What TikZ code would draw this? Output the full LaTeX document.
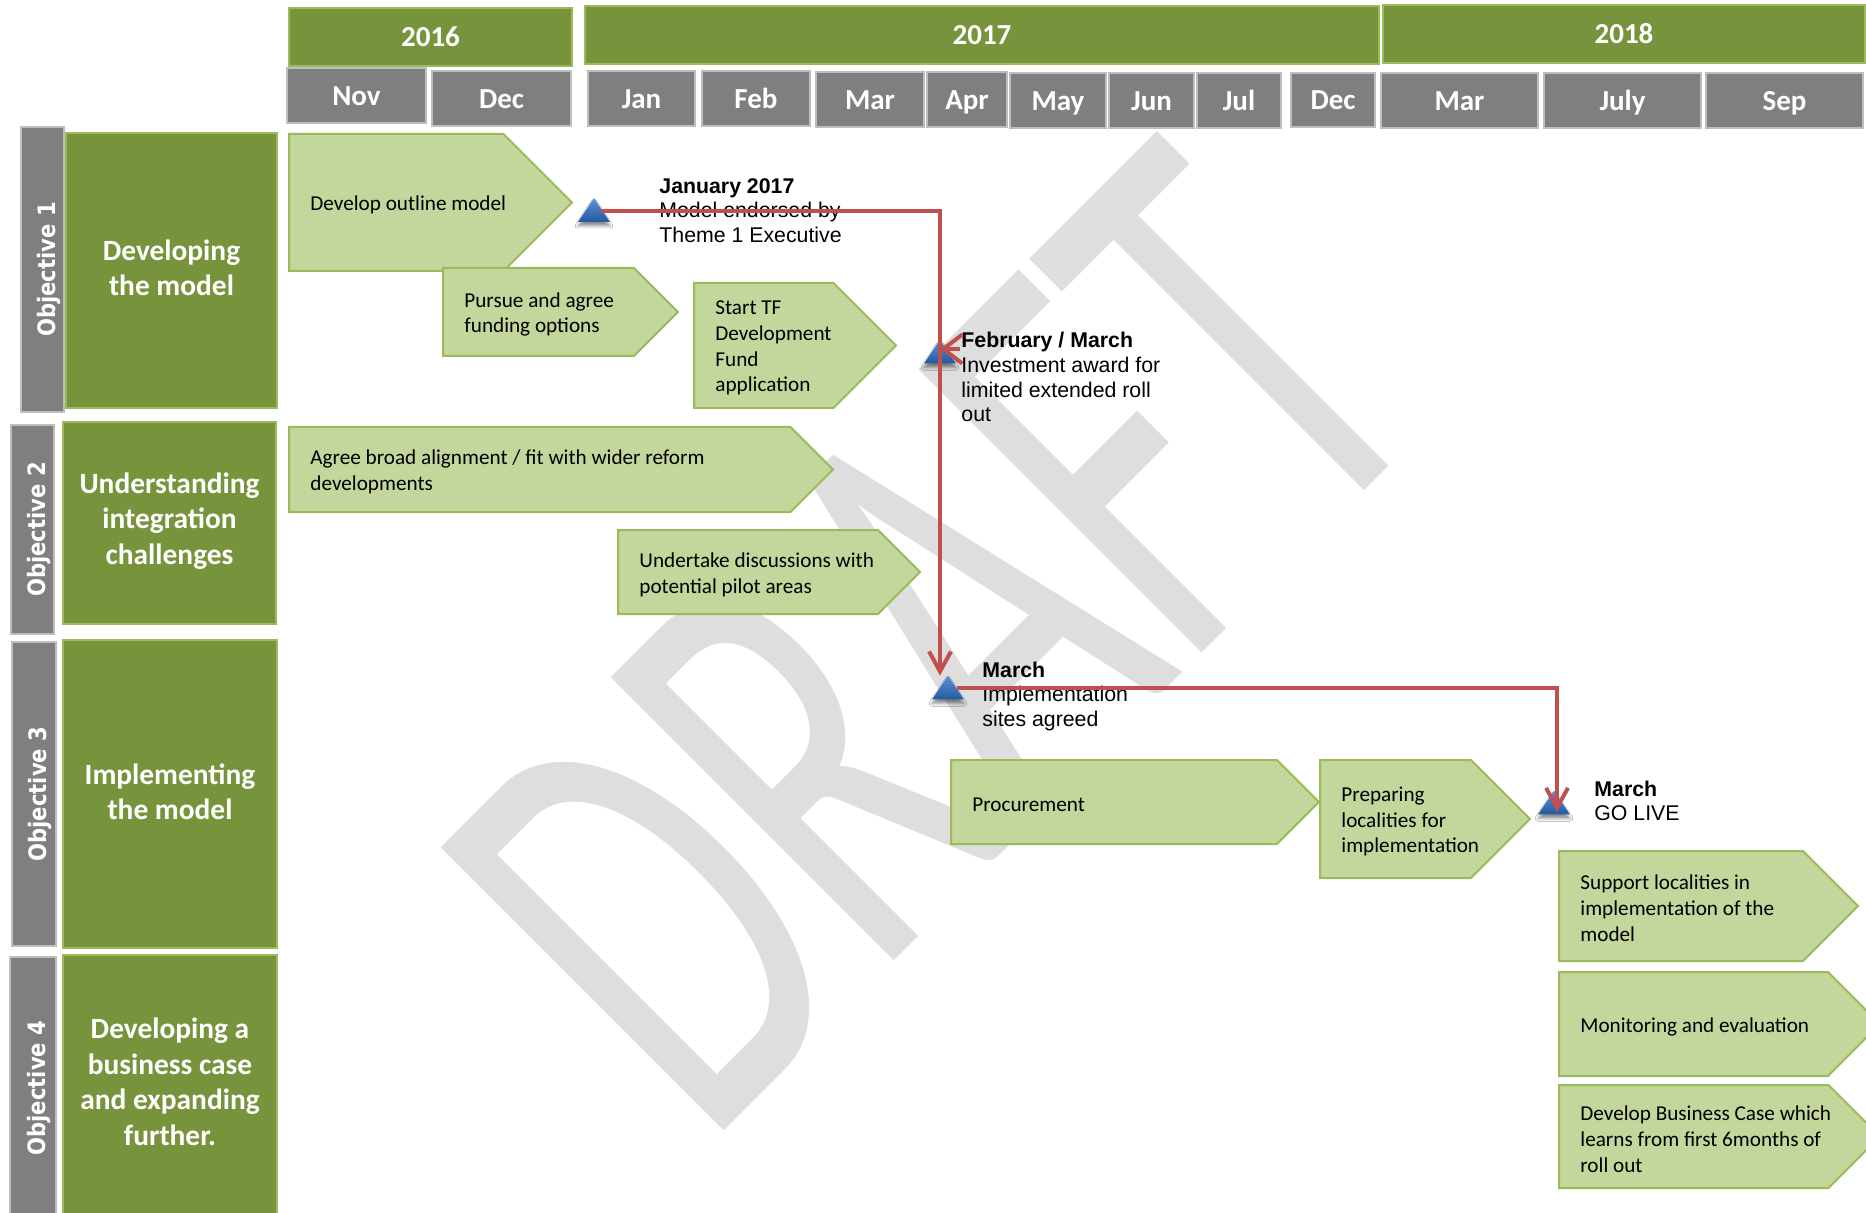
\documentclass[tikz,border=0pt]{standalone}
\usepackage{fontspec}
\usepackage{graphicx}
\setmainfont{Carlito}
\newfontfamily\msfont{Liberation Sans}
\newfontfamily\tabfont{DejaVu Sans}
\usetikzlibrary{arrows.meta,shadows.blur}

\definecolor{olive}{RGB}{119,147,60}
\definecolor{oliveedge}{RGB}{155,187,89}
\definecolor{chevfill}{RGB}{195,214,155}
\definecolor{chevedge}{RGB}{155,187,89}
\definecolor{slate}{RGB}{127,127,127}
\definecolor{slateedge}{RGB}{190,190,190}
\definecolor{linkred}{RGB}{192,80,77}
\definecolor{wmgray}{RGB}{222,222,222}
\definecolor{triTop}{RGB}{92,148,216}
\definecolor{triBot}{RGB}{36,88,160}

\tikzset{
  yearbox/.style={fill=olive, draw=oliveedge, line width=1pt},
  monthbox/.style={fill=slate, draw=slateedge, line width=0.6pt},
  hdrtext/.style={text=white, anchor=base, inner sep=0pt, font=\fontsize{14.5}{17}\selectfont\bfseries},
  objbar/.style={fill=slate, draw=slateedge, line width=0.6pt},
  objbox/.style={fill=olive, draw=oliveedge, line width=1pt},
  objtab/.style={text=white, rotate=90, inner sep=0pt, font=\tabfont\fontsize{12}{14}\selectfont\bfseries},
  objtext/.style={text=white, align=center, inner sep=0pt, font=\fontsize{14.7}{17.75}\selectfont\bfseries},
  chevbox/.style={fill=chevfill, draw=chevedge, line width=1pt, line join=miter},
  chevtext/.style={anchor=west, align=left, inner sep=0pt, font=\fontsize{10.6}{12.9}\selectfont},
  mstext/.style={anchor=north west, align=left, inner sep=0pt, font=\msfont\fontsize{10.65}{12.3}\selectfont},
  msmark/.style={inner sep=0pt, minimum width=15.5pt, minimum height=11.5pt},
  mstri/.style={top color=triTop, bottom color=triBot,
    blur shadow={shadow xshift=0pt, shadow yshift=-2pt, shadow blur radius=1.5pt, shadow opacity=45}},
  link/.style={draw=linkred, line width=2pt, line join=miter},
  barb/.style={-{Straight Barb[length=10pt, width=11pt]}},
}

% header cell: style, name, x1, y1, x2, y2, text
\newcommand{\hdrcell}[7]{%
  \path[#1] (#3,#4) rectangle (#5,#6);
  \node[hdrtext] (#2) at ({(#3+#5)/2},{(#4+#6)/2+10}) {#7};
}
% task chevron: name, left, top, bottom, tip x, text
\newcommand{\chev}[6]{%
  \path[chevbox] (#2,#3) -- ({#5-(#4-#3)/2},#3) -- (#5,{(#3+#4)/2})
     -- ({#5-(#4-#3)/2},#4) -- (#2,#4) -- cycle;
  \node[chevtext] (#1) at ({#2+21},{(#3+#4)/2+2.5}) {#6};
}

\begin{document}
\begin{tikzpicture}[x=0.5pt, y=-0.5pt]
\useasboundingbox (0,0) rectangle (1866,1213);
\clip (0,0) rectangle (1866,1213);
\fill[white] (0,0) rectangle (1866,1213);

% watermark
\begin{scope}[shift={(705,1150)}]
  \node[rotate=45, anchor=base west, inner sep=0pt, text=wmgray,
        font=\fontsize{312}{312}\selectfont] (draft) at (0,0) {\scalebox{0.624}[1]{DRAFT}};
\end{scope}

% years
\hdrcell{yearbox}{y16}{289}{8}{572}{66}{2016}
\hdrcell{yearbox}{y17}{585}{6}{1379}{64}{2017}
\hdrcell{yearbox}{y18}{1383}{5}{1865}{63}{2018}

% months
\hdrcell{monthbox}{nov16}{287}{68}{426}{123}{Nov}
\hdrcell{monthbox}{dec16}{432}{71}{571}{126}{Dec}
\hdrcell{monthbox}{jan17}{588}{71}{695}{126}{Jan}
\hdrcell{monthbox}{feb17}{702}{71}{810}{126}{Feb}
\hdrcell{monthbox}{mar17}{816}{72}{924}{127}{Mar}
\hdrcell{monthbox}{apr17}{927}{72}{1007}{127}{Apr}
\hdrcell{monthbox}{may17}{1010}{73}{1106}{128}{May}
\hdrcell{monthbox}{jun17}{1109}{73}{1194}{128}{Jun}
\hdrcell{monthbox}{jul17}{1197}{73}{1281}{128}{Jul}
\hdrcell{monthbox}{dec17}{1291}{73}{1375}{127}{Dec}
\hdrcell{monthbox}{mar18}{1381}{73}{1538}{128}{Mar}
\hdrcell{monthbox}{jul18}{1544}{73}{1701}{128}{July}
\hdrcell{monthbox}{sep18}{1706}{73}{1863}{128}{Sep}

% objectives
\path[objbar] (21,127) rectangle (64,412);
\path[objbox] (66,133) rectangle (277,408);
\node[objtab] (tab1) at (48.5,269.5) {\scalebox{0.88}[1]{Objective 1}};
\node[objtext] (obj1) at (171.5,268) {Developing\\the model};

\path[objbar] (11,425) rectangle (54,634);
\path[objbox] (63,422) rectangle (276,624);
\node[objtab] (tab2) at (38.5,529.5) {\scalebox{0.88}[1]{Objective 2}};
\node[objtext] (obj2) at (169.5,521) {Understanding\\integration\\challenges};

\path[objbar] (12,642) rectangle (56,946);
\path[objbox] (63,640) rectangle (277,948);
\node[objtab] (tab3) at (40,794) {\scalebox{0.88}[1]{Objective 3}};
\node[objtext] (obj3) at (170,792) {Implementing\\the model};

\path[objbar] (10,957) rectangle (56,1230);
\path[objbox] (63,955) rectangle (277,1230);
\node[objtab] (tab4) at (39,1088) {\scalebox{0.88}[1]{Objective 4}};
\node[objtext] (obj4) at (170,1082) {Developing a\\business case\\and expanding\\further.};

% tasks
\chev{c1}{289}{134}{271}{572}{Develop outline model}
\chev{c2}{443}{268}{356}{678}{Pursue and agree\\funding options}
\chev{c3}{694}{283}{408}{896}{Start TF\\Development\\Fund\\application}
\chev{c4}{289}{427}{512}{833}{Agree broad alignment / fit with wider reform\\developments}
\chev{c5}{618}{530}{614}{920}{Undertake discussions with\\potential pilot areas}
\chev{c6}{951}{760}{844}{1319}{Procurement}
\chev{c7}{1320}{760}{878}{1530}{Preparing\\localities for\\implementation}
\chev{c8}{1559}{851}{961}{1858}{Support localities in\\implementation of the\\model}
\chev{c9}{1559}{972}{1076}{1880}{Monitoring and evaluation}
\chev{c10}{1559}{1085}{1188}{1880}{Develop Business Case which\\learns from first 6months of\\roll out}

% milestone labels
\node[mstext] (m1) at (659,178) {\textbf{January 2017}\\Model endorsed by\\Theme 1 Executive};
\node[mstext] (m2) at (961,332) {\textbf{February / March}\\Investment award for\\limited extended roll\\out};
\node[mstext] (m3) at (982,661.5) {\textbf{March}\\Implementation\\sites agreed};
\node[mstext] (m4) at (1594,780.5) {\textbf{March}\\GO LIVE};

% milestone markers
\node[msmark] (t1) at (594,210) {};
\node[msmark] (t2) at (940,351.5) {};
\node[msmark] (t3) at (948,687.5) {};
\node[msmark] (t4) at (1554,802.5) {};
\foreach \t in {t1,t2,t3,t4}
  \path[mstri] (\t.south west) -- (\t.north) -- (\t.south east) -- cycle;

% links between milestones
\coordinate (ja) at (940,211);
\coordinate (jb) at (1557,688);
\coordinate (golive) at (1557,812);
\coordinate (fmin) at (960,349);
\draw[link, barb] (t1.center) ++(7,1) -- (ja) -- (ja |- t3.north);
\draw[link, barb] (t3.center) ++(9,0.5) -- (jb) -- (golive);
\draw[link, -{Straight Barb[length=9.5pt, width=14.5pt]}] (fmin) -- (ja |- fmin);
\end{tikzpicture}
\end{document}
